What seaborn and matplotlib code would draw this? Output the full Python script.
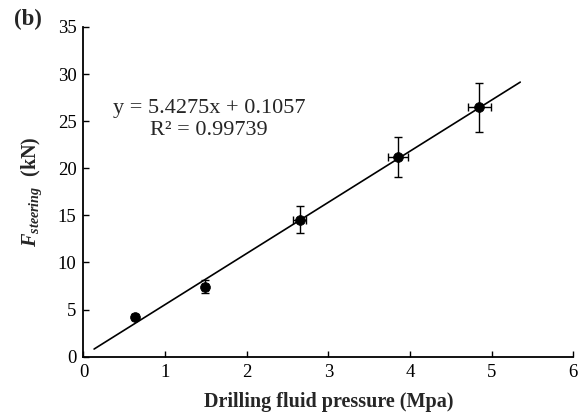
import numpy as np
import pandas as pd
import matplotlib
matplotlib.use("Agg")
import matplotlib.pyplot as plt
import seaborn as sns

# Measured steering force vs. drilling fluid pressure
pressure = [0.63, 1.49, 2.65, 3.85, 4.85]          # MPa
force = [4.25, 7.43, 14.55, 21.2, 26.5]            # kN
pressure_err = [0.03, 0.04, 0.08, 0.12, 0.14]
force_err = [0.25, 0.67, 1.43, 2.1, 2.6]

# Linear trend line (forecast 0.5 MPa beyond the data on each side)
slope = 5.4275
intercept = 0.1057
r_squared = 0.99739
forecast = 0.5

x_ticks = [0, 1, 2, 3, 4, 5, 6]
y_ticks = [0, 5, 10, 15, 20, 25, 30, 35]

sns.set_style("ticks")
plt.rcParams["font.family"] = ["Liberation Serif", "DejaVu Serif"]
plt.rcParams["mathtext.fontset"] = "custom"
plt.rcParams["mathtext.rm"] = "Liberation Serif"
plt.rcParams["mathtext.it"] = "Liberation Serif:italic"
plt.rcParams["mathtext.bf"] = "Liberation Serif:bold"
plt.rcParams["mathtext.bfit"] = "Liberation Serif:italic:bold"

df = pd.DataFrame({"pressure": pressure, "force": force})
fit_x = np.array([min(pressure) - forecast, max(pressure) + forecast])
fit_df = pd.DataFrame({"pressure": fit_x, "force": slope * fit_x + intercept})

fig = plt.figure(figsize=(5.87, 4.15), dpi=100)
ax = fig.add_axes([0.1422, 0.1405, 0.8345, 0.7946])

sns.lineplot(data=fit_df, x="pressure", y="force", ax=ax, color="black",
             linewidth=1.2, zorder=2)
ax.errorbar(pressure, force, xerr=pressure_err, yerr=force_err, fmt="none",
            ecolor="black", elinewidth=1.0, capsize=3.2, capthick=1.0, zorder=3)
sns.scatterplot(data=df, x="pressure", y="force", ax=ax, color="black",
                s=50, edgecolor="black", linewidth=0.5, zorder=4)

ax.set_xlim(0, 6)
ax.set_ylim(0, 35)
ax.set_xticks(x_ticks)
ax.set_yticks(y_ticks)
ax.tick_params(direction="in", length=4.5, width=1.0, labelsize=13.5,
               colors="black")
ax.tick_params(axis="x", pad=5)
ax.tick_params(axis="y", pad=5)
for side in ("left", "bottom"):
    ax.spines[side].set_linewidth(1.3)
    ax.spines[side].set_color("black")
sns.despine(ax=ax)

ax.set_xlabel("Drilling fluid pressure (Mpa)", fontsize=14.5, fontweight="bold",
              labelpad=8)
ax.set_ylabel(r"$\mathbfit{F}_{\mathbfit{steering}}$  (kN)", fontsize=14.5,
              fontweight="bold", labelpad=10)

ax.text(1.54, 26.3, f"y = {slope}x + {intercept}", fontsize=16,
        ha="center", va="center")
ax.text(1.54, 24.0, f"R² = {r_squared}", fontsize=16, ha="center",
        va="center")

fig.text(0.048, 0.952, "(b)", fontsize=16.5, fontweight="bold",
         ha="center", va="center")

fig.savefig("out.png", dpi=100)
